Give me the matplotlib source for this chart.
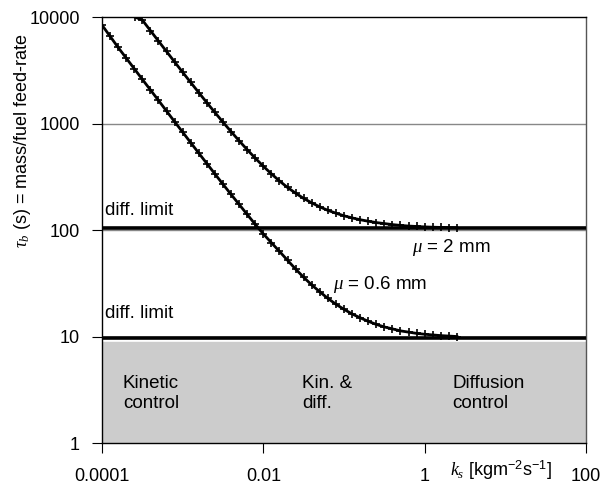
import matplotlib
matplotlib.use("Agg")
import matplotlib.pyplot as plt

plt.rcParams['font.family'] = ['Liberation Sans', 'DejaVu Sans']
plt.rcParams['mathtext.fontset'] = 'custom'
plt.rcParams['mathtext.it'] = 'Liberation Serif:italic'
plt.rcParams['mathtext.rm'] = 'Liberation Sans'

# === Dados ===
ks_06 = [1.0e-4, 1.259e-4, 1.585e-4, 1.995e-4, 2.512e-4, 3.162e-4, 3.981e-4, 5.012e-4,
         6.310e-4, 7.943e-4, 1.0e-3, 1.259e-3, 1.585e-3, 1.995e-3, 2.512e-3, 3.162e-3,
         3.981e-3, 5.012e-3, 6.310e-3, 7.943e-3, 0.01, 0.01259, 0.01585, 0.01995,
         0.02512, 0.03162, 0.03981, 0.05012, 0.0631, 0.0794, 0.1, 0.1259, 0.1585,
         0.1995, 0.2512, 0.3162, 0.3981, 0.5012, 0.631, 0.794, 1.0, 1.259, 1.585,
         1.995, 2.512]
tau_06 = [8400, 6600, 5180, 4120, 3270, 2600, 2070, 1650, 1310, 1040, 830, 661, 527,
          421, 336, 269, 216, 174, 140, 113, 92, 76, 63, 52, 43, 36, 30.5, 26.3, 22.8,
          20.1, 18.0, 16.3, 15.0, 13.9, 13.0, 12.3, 11.8, 11.3, 11.0, 10.7, 10.5,
          10.35, 10.2, 10.1, 10.0]

ks_2 = [2.6e-4, 3.162e-4, 3.981e-4, 5.012e-4, 6.310e-4, 7.943e-4, 1.0e-3, 1.259e-3,
        1.585e-3, 1.995e-3, 2.512e-3, 3.162e-3, 3.981e-3, 5.012e-3, 6.310e-3, 7.943e-3,
        0.01, 0.01259, 0.01585, 0.01995, 0.02512, 0.03162, 0.03981, 0.05012, 0.0631,
        0.0794, 0.1, 0.1259, 0.1585, 0.1995, 0.2512, 0.3162, 0.3981, 0.5012, 0.631,
        0.794, 1.0, 1.259, 1.585, 1.995, 2.512]
tau_2 = [9950, 9370, 7460, 5950, 4750, 3790, 3030, 2430, 1950, 1570, 1270, 1030, 840,
         689, 568, 473, 397, 337, 289, 251, 222, 198, 180, 165, 153, 144, 136, 130,
         125, 121, 117.5, 115, 112.5, 110.5, 109, 108, 107, 106.3, 105.8, 105.4, 105.1]

lim_06 = 9.7
lim_2 = 104
kin_top = 8.9

fig = plt.figure(figsize=(6.05, 4.94), dpi=100)
ax = fig.add_axes([0.1686, 0.1032, 0.8, 0.8623])
ax.set_xscale('log')
ax.set_yscale('log')
ax.set_xlim(1e-4, 100)
ax.set_ylim(1, 10000)

ax.axhspan(1, kin_top, color='#cccccc', zorder=0)
for g in [10, 100, 1000]:
    ax.axhline(g, color='#888888', lw=1, zorder=1)

ax.plot([1e-4, 100], [lim_2, lim_2], color='black', lw=2.6, zorder=3)
ax.plot([1e-4, 100], [lim_06, lim_06], color='black', lw=2.6, zorder=3)
ax.plot(ks_06, tau_06, color='black', lw=2.0, marker='+', ms=6, mew=1.2, zorder=4)
ax.plot(ks_2, tau_2, color='black', lw=2.0, marker='+', ms=6, mew=1.2, zorder=4)

fs = 13.5
ax.text(1.1e-4, 154, 'diff. limit', fontsize=fs, va='center')
ax.text(1.1e-4, 16.6, 'diff. limit', fontsize=fs, va='center')
ax.text(0.70, 69, r'$\mu$ = 2 mm', fontsize=fs, va='center')
ax.text(0.0735, 30.5, r'$\mu$ = 0.6 mm', fontsize=fs, va='center')
ax.text(1.82e-4, 2.9, 'Kinetic\ncontrol', fontsize=fs, va='center', linespacing=1.25)
ax.text(0.030, 2.9, 'Kin. &\ndiff.', fontsize=fs, va='center', linespacing=1.25)
ax.text(2.2, 2.9, 'Diffusion\ncontrol', fontsize=fs, va='center', linespacing=1.25)

ax.set_xticks([1e-4, 1e-2, 1, 100])
ax.set_xticklabels(['0.0001', '0.01', '1', '100'])
ax.set_yticks([1, 10, 100, 1000, 10000])
ax.set_yticklabels(['1', '10', '100', '1000', '10000'])
ax.minorticks_off()
ax.tick_params(axis='x', length=7, pad=11, labelsize=13)
ax.tick_params(axis='y', length=7, pad=9, labelsize=13)

for s in ax.spines.values():
    s.set_linewidth(1)
ax.spines['right'].set_color('#555555')

ax.set_ylabel(r'$\tau_b$ (s) = mass/fuel feed-rate', fontsize=13)
ax.yaxis.set_label_coords(-0.143, 0.71)
ax.text(0.824, -0.063, r'$k_s$ [kgm$^{-2}$s$^{-1}$]', transform=ax.transAxes,
        fontsize=13, ha='center', va='center')

fig.savefig('out.png', dpi=100)
